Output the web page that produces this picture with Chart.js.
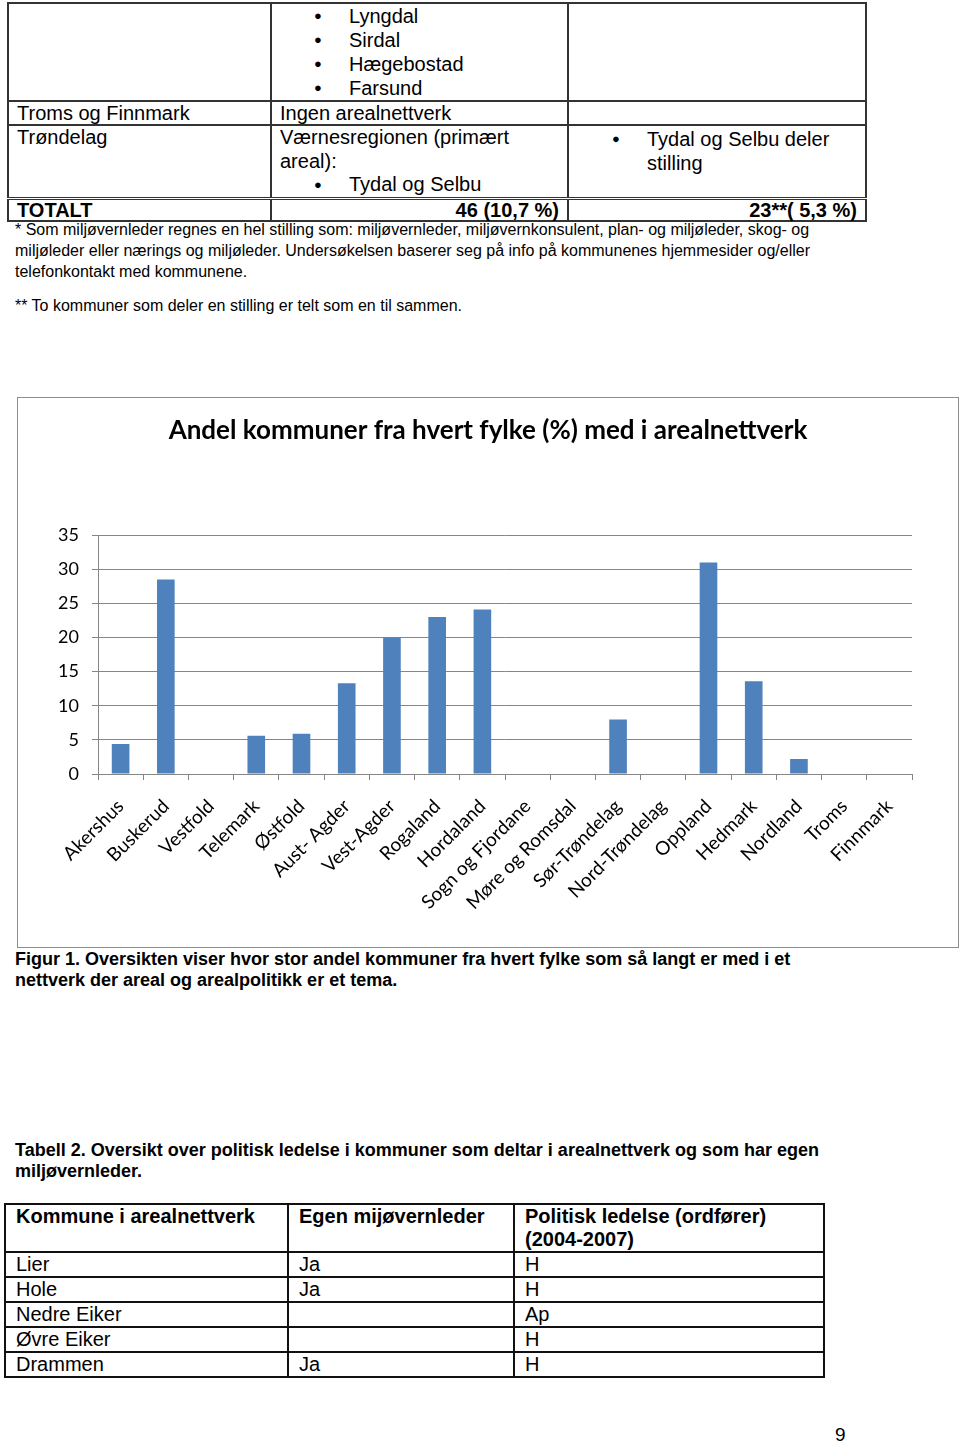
<!DOCTYPE html>
<html lang="no">
<head>
<meta charset="utf-8">
<script src="https://cdn.jsdelivr.net/npm/chart.js@4/dist/chart.umd.min.js"></script>
<style>
    body { margin: 0; background: #fff; font-family: "Liberation Sans", Arial, sans-serif; color: #000; }
    .page { position: relative; width: 960px; height: 1444px; }
    table { border-collapse: collapse; table-layout: fixed; position: absolute; }
    #t1 td { border: 2px solid #333; vertical-align: top; padding: 0 8px; font-size: 20px; line-height: 22px; }
    ul { margin: 0; padding: 0 0 0 69px; list-style: none; }
    li { position: relative; }
    li::before { content: "\25CF"; position: absolute; left: -35px; font-size: 13px; }
    .tot td { font-weight: bold; line-height: 20px !important; border-top: 3px double #333 !important; }
    .r { text-align: right; }
    .txt { position: absolute; left: 15px; }
    .note { font-size: 16px; line-height: 21px; width: 815px; }
    .cap { font-size: 18px; line-height: 21px; font-weight: bold; width: 830px; }
    #t2 td { border: 2px solid #111; padding: 0 10px; font-size: 20px; line-height: 23px; vertical-align: top; }
    #t2 .h td { font-weight: bold; }
    .box { position: absolute; left: 17px; top: 397px; width: 940px; height: 549px; border: 1px solid #8c8c8c; }
</style>
</head>
<body>
<div class="page">
    <table id="t1" style="left:7px; top:2px; width:859px;">
        <colgroup><col style="width:263px"><col style="width:297px"><col style="width:298px"></colgroup>
        <tr style="height:96px">
            <td></td>
            <td style="line-height:24px"><ul><li>Lyngdal</li><li>Sirdal</li><li>Hægebostad</li><li>Farsund</li></ul></td>
            <td></td>
        </tr>
        <tr style="height:24px">
            <td>Troms og Finnmark</td>
            <td>Ingen arealnettverk</td>
            <td></td>
        </tr>
        <tr style="height:72px">
            <td style="line-height:23px">Trøndelag</td>
            <td style="line-height:23.5px">Værnesregionen (primært areal):<ul><li>Tydal og Selbu</li></ul></td>
            <td style="line-height:24px; padding-top:1px"><ul style="padding-left:70px"><li>Tydal og Selbu deler stilling</li></ul></td>
        </tr>
        <tr class="tot" style="height:22px">
            <td>TOTALT</td>
            <td class="r">46 (10,7 %)</td>
            <td class="r">23**( 5,3 %)</td>
        </tr>
    </table>

    <div class="txt note" style="top:219px;">* Som miljøvernleder regnes en hel stilling som: miljøvernleder, miljøvernkonsulent, plan- og miljøleder, skog- og miljøleder eller nærings og miljøleder. Undersøkelsen baserer seg på info på kommunenes hjemmesider og/eller telefonkontakt med kommunene.</div>
    <div class="txt note" style="top:295px;">** To kommuner som deler en stilling er telt som en til sammen.</div>

    <div class="box"><canvas id="chart" width="940" height="549"></canvas></div>

    <div class="txt cap" style="top:949px;">Figur 1. Oversikten viser hvor stor andel kommuner fra hvert fylke som så langt er med i et nettverk der areal og arealpolitikk er et tema.</div>
    <div class="txt cap" style="top:1140px;">Tabell 2. Oversikt over politisk ledelse i kommuner som deltar i arealnettverk og som har egen miljøvernleder.</div>

    <table id="t2" style="left:4px; top:1203px; width:819px;">
        <colgroup><col style="width:283px"><col style="width:226px"><col style="width:310px"></colgroup>
        <tr class="h" style="height:48px"><td>Kommune i arealnettverk</td><td>Egen mijøvernleder</td><td>Politisk ledelse (ordfører) (2004-2007)</td></tr>
        <tr><td>Lier</td><td>Ja</td><td>H</td></tr>
        <tr><td>Hole</td><td>Ja</td><td>H</td></tr>
        <tr><td>Nedre Eiker</td><td></td><td>Ap</td></tr>
        <tr><td>Øvre Eiker</td><td></td><td>H</td></tr>
        <tr><td>Drammen</td><td>Ja</td><td>H</td></tr>
    </table>

    <div style="position:absolute; left:835px; top:1424px; font-size:19px;">9</div>
</div>

<script>
// andel kommuner (%) per fylke i arealnettverk
const fylker = ["Akershus", "Buskerud", "Vestfold", "Telemark", "Østfold", "Aust- Agder", "Vest-Agder",
    "Rogaland", "Hordaland", "Sogn og Fjordane", "Møre og Romsdal", "Sør-Trøndelag", "Nord-Trøndelag",
    "Oppland", "Hedmark", "Nordland", "Troms", "Finnmark"];
const andel = [4.4, 28.5, 0, 5.6, 5.9, 13.3, 20.0, 23.0, 24.1, 0, 0, 8.0, 0, 31.0, 13.6, 2.2, 0, 0];
const yMin = 0, yMax = 35, yStep = 5;

const gridColor = "#868686";
const fontFam = "Lato, 'Open Sans', sans-serif";

const ctx = document.getElementById("chart").getContext("2d");
new Chart(ctx, {
    type: "bar",
    data: {
        labels: fylker,
        datasets: [{
            label: "Andel",
            data: andel,
            backgroundColor: "#4f81bd",
            borderWidth: 0,
            barPercentage: 0.39,
            categoryPercentage: 1
        }]
    },
    options: {
        responsive: false,
        animation: false,
        layout: { padding: 0 },
        scales: {
            x: {
                afterFit: (s) => { s.height = 173; },
                grid: { drawOnChartArea: false, drawTicks: true, tickLength: 6, color: gridColor },
                border: { color: gridColor },
                ticks: {
                    autoSkip: false,
                    minRotation: 45,
                    maxRotation: 45,
                    padding: 15,
                    color: "#000",
                    font: { family: fontFam, size: 19 }
                }
            },
            y: {
                min: yMin,
                max: yMax,
                afterFit: (s) => { s.width = 80; },
                grid: { color: gridColor, tickLength: 6 },
                border: { color: gridColor },
                ticks: {
                    stepSize: yStep,
                    padding: 13,
                    color: "#000",
                    font: { family: fontFam, size: 18 }
                }
            },
            // empty right-hand space so the title stays centred on the whole box
            yr: {
                position: "right",
                min: yMin,
                max: yMax,
                afterFit: (s) => { s.width = 46; },
                grid: { display: false },
                border: { display: false },
                ticks: { display: false }
            }
        },
        plugins: {
            legend: { display: false },
            tooltip: { enabled: false },
            title: {
                display: true,
                text: "Andel kommuner fra hvert fylke (%) med i arealnettverk",
                color: "#000",
                font: { family: fontFam, size: 26, weight: "bold" },
                padding: { top: 17, bottom: 89 }
            }
        }
    }
});
</script>
</body>
</html>
